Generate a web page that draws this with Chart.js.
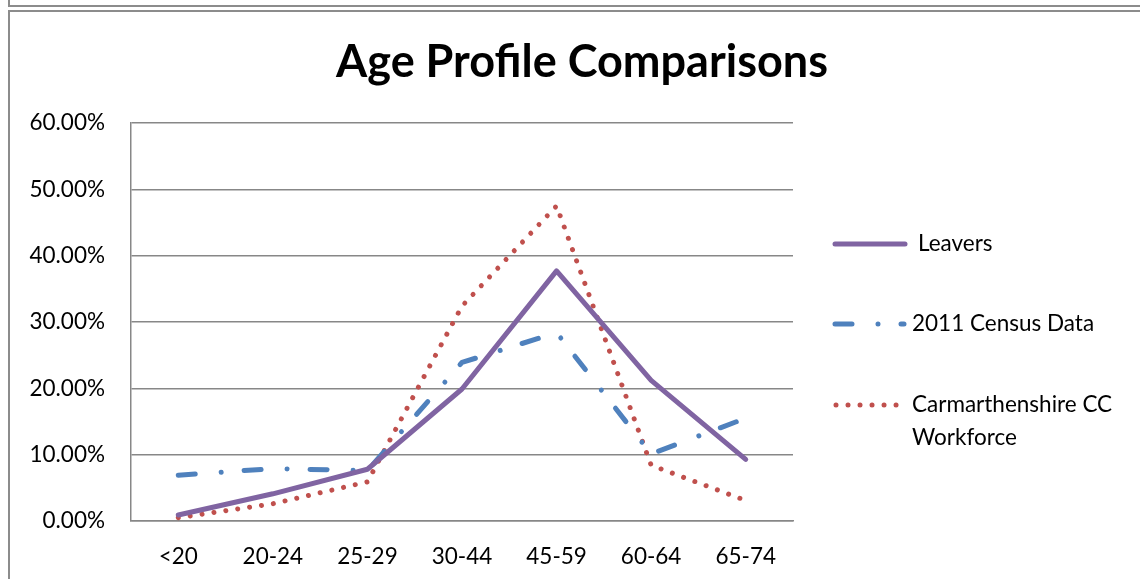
<!DOCTYPE html>
<html>
<head>
<meta charset="utf-8">
<title>Age Profile Comparisons</title>
<script src="https://cdn.jsdelivr.net/npm/chart.js@4"></script>
<style>
  html, body { margin: 0; padding: 0; background: #fff; overflow: hidden; }
  .strip { position: absolute; left: 8px; top: -20px; width: 1200px; height: 23px; border: 2px solid #8c8c8c; }
  .box { position: absolute; left: 8px; top: 10px; width: 1200px; height: 700px; border: 2px solid #8c8c8c; }
  #wrap { position: absolute; left: 0; top: 0; width: 1140px; height: 579px; }
</style>
</head>
<body>
<div class="strip"></div>
<div class="box"></div>
<div id="wrap"><canvas id="grafica"></canvas></div>
<script>
// age bands and the share of each group in them (percent)
const ageBands = ['<20', '20-24', '25-29', '30-44', '45-59', '60-64', '65-74'];
const leavers = [0.9, 4.1, 7.8, 19.9, 37.7, 21.2, 9.3];
const census2011 = [6.9, 7.9, 7.6, 23.9, 28.4, 10.1, 15.5];
const workforce = [0.5, 2.6, 5.9, 32.4, 47.5, 8.4, 3.1];
const yTicks = [0, 10, 20, 30, 40, 50, 60];

const fuente = 'Lato, "Open Sans", sans-serif';
const gris = '#878787';
const tamTexto = 22.5;

// legend drawn by hand so the line samples keep the dash styles
const leyenda = {
  id: 'leyenda',
  afterDraw(chart) {
    const ctx = chart.ctx;
    const filas = [
      { y: 244, x0: 835, x1: 905, texto: ['Leavers'], tx: 918 },
      { y: 324, x0: 835, x1: 904, texto: ['2011 Census Data'], tx: 912 },
      { y: 405, x0: 836, x1: 900, texto: ['Carmarthenshire CC', 'Workforce'], tx: 912 }
    ];
    chart.data.datasets.forEach((ds, i) => {
      const f = filas[i];
      ctx.save();
      ctx.strokeStyle = ds.borderColor;
      ctx.lineWidth = ds.borderWidth;
      ctx.lineCap = 'round';
      ctx.setLineDash(ds.borderDash || []);
      ctx.beginPath();
      ctx.moveTo(f.x0, f.y);
      ctx.lineTo(f.x1, f.y);
      ctx.stroke();
      ctx.setLineDash([]);
      ctx.fillStyle = '#000';
      ctx.font = tamTexto + 'px ' + fuente;
      ctx.textBaseline = 'middle';
      f.texto.forEach((t, k) => ctx.fillText(t, f.tx, f.y + k * 33));
      ctx.restore();
    });
  }
};

const ctx = document.getElementById('grafica').getContext('2d');

new Chart(ctx, {
  type: 'line',
  data: {
    labels: ageBands,
    datasets: [
      {
        label: 'Leavers',
        data: leavers,
        borderColor: '#8064A2',
        borderWidth: 5,
        borderCapStyle: 'round',
        borderJoinStyle: 'round'
      },
      {
        label: '2011 Census Data',
        data: census2011,
        borderColor: '#4F81BD',
        borderWidth: 5,
        borderDash: [17, 26, 0.01, 23],
        borderCapStyle: 'round',
        borderJoinStyle: 'round'
      },
      {
        label: 'Carmarthenshire CC Workforce',
        data: workforce,
        borderColor: '#C0504D',
        borderWidth: 5,
        borderDash: [0.01, 12],
        borderCapStyle: 'round',
        borderJoinStyle: 'round'
      }
    ]
  },
  options: {
    responsive: true,
    maintainAspectRatio: false,
    animation: false,
    elements: { point: { radius: 0, hoverRadius: 0 }, line: { tension: 0 } },
    layout: { padding: { left: 24, right: 0, top: 0, bottom: 14 } },
    plugins: {
      legend: { display: false },
      tooltip: { enabled: false },
      title: {
        display: true,
        text: 'Age Profile Comparisons',
        color: '#000',
        font: { family: fuente, size: 45, weight: 'bold' },
        padding: { top: 35, bottom: 34 }
      }
    },
    scales: {
      x: {
        offset: true,
        grid: { display: false, drawTicks: false },
        border: { display: true, color: gris, width: 1.5 },
        ticks: { color: '#000', font: { family: fuente, size: tamTexto }, padding: 22 },
        afterFit(scale) { scale.height = 44; }
      },
      y: {
        min: 0,
        max: 60,
        afterBuildTicks(scale) { scale.ticks = yTicks.map(v => ({ value: v })); },
        grid: { color: gris, lineWidth: 1.5, drawTicks: false },
        border: { display: true, color: gris, width: 1.5 },
        ticks: {
          color: '#000',
          font: { family: fuente, size: tamTexto },
          padding: 26,
          callback: v => v.toFixed(2) + '%'
        },
        afterFit(scale) { scale.width = 107; }
      },
      // empty axis on the right that keeps room for the legend
      derecha: {
        type: 'linear',
        position: 'right',
        grid: { display: false },
        border: { display: false },
        ticks: { display: false },
        afterFit(scale) { scale.width = 347; }
      }
    }
  },
  plugins: [leyenda]
});
</script>
</body>
</html>
